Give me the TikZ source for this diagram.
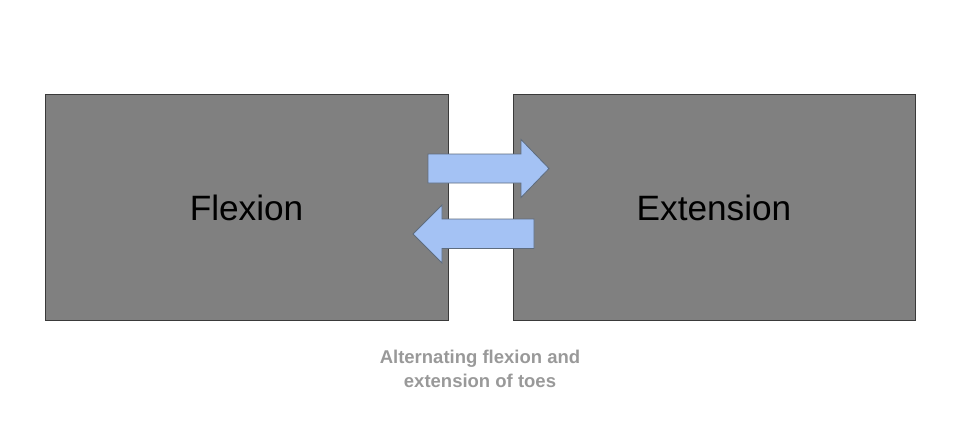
\documentclass[tikz,border=0pt]{standalone}
\usepackage{fontspec}
\setmainfont{Liberation Sans}
\definecolor{boxgray}{HTML}{808080}
\definecolor{boxedge}{HTML}{3A3A3A}
\definecolor{arrowfill}{HTML}{A4C2F4}
\definecolor{arrowedge}{HTML}{5E6C7E}
\definecolor{captiongray}{HTML}{999999}
\begin{document}
\begin{tikzpicture}[x=1pt,y=-1pt,
  graybox/.style={draw=boxedge,fill=boxgray,line width=1pt},
  boxlabel/.style={font=\fontsize{35.2}{40}\selectfont,text=black},
  fatarrow/.style={draw=arrowedge,fill=arrowfill,line width=0.8pt,line join=miter},
  caption/.style={font=\bfseries\fontsize{18.5}{24}\selectfont,text=captiongray,align=center}]
\useasboundingbox (0,0) rectangle (960,447);
\draw[graybox] (45,94) rectangle (448,320);
\draw[graybox] (513,94) rectangle (915,320);
\node[boxlabel] (flex) at (246.5,208) {Flexion};
\node[boxlabel] (ext) at (714,208) {Extension};
\draw[fatarrow] (428,154) -- (521,154) -- (521,139.5) -- (549,168.5) -- (521,197.5) -- (521,183) -- (428,183) -- cycle;
\draw[fatarrow] (534,219) -- (442,219) -- (442,205) -- (413,234) -- (442,263) -- (442,248.5) -- (534,248.5) -- cycle;
\node[caption] (cap) at (480,368.5) {Alternating flexion and\\extension of toes};
\end{tikzpicture}
\end{document}
